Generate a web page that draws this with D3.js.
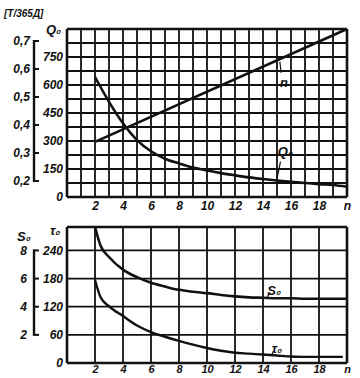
<!DOCTYPE html>
<html><head><meta charset="utf-8">
<script src="https://cdn.jsdelivr.net/npm/d3@7"></script>
<style>
html,body{margin:0;padding:0;background:#fff;}
svg text{font-family:"Liberation Sans",Arial,sans-serif;font-style:italic;font-weight:bold;fill:#111;}
</style></head>
<body><svg id="c" width="360" height="378"></svg>
<script>
// ---- data ----
const xTickValues = [2,4,6,8,10,12,14,16,18,20];
const xTickLabels = ["2","4","6","8","10","12","14","16","18","n"];
const q0Ticks = [0,150,300,450,600,750];
const tTicks = [0.2,0.3,0.4,0.5,0.6,0.7];
const tTickLabels = ["0,2","0,3","0,4","0,5","0,6","0,7"];
const nLineX = [2,20];
const nLineY = [295,900];
const q0X = [2,3,4,5,6,7,8,9,10,11,12,13,14,15,16,17,18,19,20];
const q0Y = [643,510,395,305,245,205,180,158,142,128,116,105,96,88,81,75,69,64,55];
const bTicks = [0,60,120,180,240];
const sTicks = [2,4,6,8];
const s0X = [2,2.4,3,4,5,6,7,8,9,10,11,12,13,14,15,16,17,18,19,20];
const s0Y = [290,250,226,199,183,171,163,156,152,149,145,142,140,139,138,138,137,137,137,137];
const t0X = [2,2.4,3,4,5,6,7,8,9,10,11,12,13,14,15,16,17,18,19,19.7];
const t0Y = [177,140,121,100,80,66,56,47,39,32,26,22,20,18,16,14,13,13,13,13];

// ---- layout ----
const svg = d3.select("#c");
const x = d3.scaleLinear().domain([0,20]).range([67,347]);
const yT = d3.scaleLinear().domain([0,900]).range([197,29]);
const yT2 = d3.scaleLinear().domain([0.2,0.7]).range([181,41]);
const yB = d3.scaleLinear().domain([0,290]).range([363,227]);
const yB2 = d3.scaleLinear().domain([2,8]).range([yB(60),yB(240)]);

const ink = "#111";
const g = svg.append("g");

// top grid
g.append("g").selectAll("line").data(d3.range(0,21,1)).join("line")
  .attr("x1",d=>x(d)).attr("x2",d=>x(d)).attr("y1",yT(0)).attr("y2",yT(900))
  .attr("stroke",ink).attr("stroke-width",d=>(d===0||d===20)?2.6:1.8);
g.append("g").selectAll("line").data(d3.range(0,901,75)).join("line")
  .attr("x1",x(0)).attr("x2",x(20)).attr("y1",d=>yT(d)).attr("y2",d=>yT(d))
  .attr("stroke",ink).attr("stroke-width",d=>(d===0||d===900)?2.6:1.8);

// bottom grid
g.append("g").selectAll("line").data(d3.range(0,21,2)).join("line")
  .attr("x1",d=>x(d)).attr("x2",d=>x(d)).attr("y1",yB(0)).attr("y2",yB(290))
  .attr("stroke",ink).attr("stroke-width",d=>(d===0||d===20)?2.6:1.8);
g.append("g").selectAll("line").data(bTicks.concat([290])).join("line")
  .attr("x1",x(0)).attr("x2",x(20)).attr("y1",d=>yB(d)).attr("y2",d=>yB(d))
  .attr("stroke",ink).attr("stroke-width",d=>(d===0||d===290)?2.6:1.8);

// curves
const lineT = d3.line().x(d=>x(d[0])).y(d=>yT(d[1])).curve(d3.curveMonotoneX);
const lineB = d3.line().x(d=>x(d[0])).y(d=>yB(d[1])).curve(d3.curveMonotoneX);
g.append("path").attr("d",d3.line().x(d=>x(d[0])).y(d=>yT(d[1]))(d3.zip(nLineX,nLineY)))
  .attr("fill","none").attr("stroke",ink).attr("stroke-width",2.6);
g.append("path").attr("d",lineT(d3.zip(q0X,q0Y)))
  .attr("fill","none").attr("stroke",ink).attr("stroke-width",2.6);
g.append("path").attr("d",lineB(d3.zip(s0X,s0Y)))
  .attr("fill","none").attr("stroke",ink).attr("stroke-width",2.6);
g.append("path").attr("d",lineB(d3.zip(t0X,t0Y)))
  .attr("fill","none").attr("stroke",ink).attr("stroke-width",2.4);

// axes labels (main)
function styleAxis(sel){
  sel.select(".domain").remove();
  sel.selectAll(".tick line").remove();
  sel.selectAll("text").style("font-size","12px").attr("fill",ink);
}
svg.append("g").attr("transform",`translate(${x(0)-1},0)`)
  .call(d3.axisLeft(yT).tickValues(q0Ticks).tickSize(0).tickPadding(3).tickFormat(d3.format("d")))
  .call(styleAxis);
svg.append("g").attr("transform",`translate(${x(0)-1},0)`)
  .call(d3.axisLeft(yB).tickValues(bTicks).tickSize(0).tickPadding(3).tickFormat(d3.format("d")))
  .call(styleAxis);
svg.append("g").attr("transform",`translate(0,${yT(0)+2})`)
  .call(d3.axisBottom(x).tickValues(xTickValues).tickSize(0).tickPadding(2).tickFormat((d,i)=>xTickLabels[i]))
  .call(styleAxis);
svg.append("g").attr("transform",`translate(0,${yB(0)+1})`)
  .call(d3.axisBottom(x).tickValues(xTickValues).tickSize(0).tickPadding(1).tickFormat((d,i)=>xTickLabels[i]))
  .call(styleAxis)
  .call(s=>s.selectAll("text").style("font-size","11px"));

// secondary top axis
const ax2 = svg.append("g").attr("transform","translate(34,0)");
ax2.append("line").attr("x1",0).attr("x2",0).attr("y1",yT2(0.7)-1).attr("y2",yT2(0.2)+1)
  .attr("stroke",ink).attr("stroke-width",2.4);
ax2.selectAll("line.t").data(tTicks).join("line").attr("class","t")
  .attr("x1",0).attr("x2",5).attr("y1",d=>yT2(d)).attr("y2",d=>yT2(d))
  .attr("stroke",ink).attr("stroke-width",2);
ax2.selectAll("text").data(tTicks).join("text")
  .attr("x",-4).attr("y",d=>yT2(d)).attr("dy","0.3em").attr("text-anchor","end")
  .style("font-size","12px").text((d,i)=>tTickLabels[i]);

// secondary bottom axis
const ax3 = svg.append("g").attr("transform","translate(34,0)");
ax3.append("line").attr("x1",0).attr("x2",0).attr("y1",yB2(8)-1).attr("y2",yB2(2)+1)
  .attr("stroke",ink).attr("stroke-width",2.4);
ax3.selectAll("line.t").data(sTicks).join("line").attr("class","t")
  .attr("x1",0).attr("x2",5).attr("y1",d=>yB2(d)).attr("y2",d=>yB2(d))
  .attr("stroke",ink).attr("stroke-width",2);
ax3.selectAll("text").data(sTicks).join("text")
  .attr("x",-7).attr("y",d=>yB2(d)).attr("dy","0.35em").attr("text-anchor","end")
  .style("font-size","12px").text(d=>d);

// axis titles
svg.append("text").attr("x",4).attr("y",17).style("font-size","10px").text("[T/365Д]");
svg.append("text").attr("x",46).attr("y",34).style("font-size","13px").text("Q₀");
svg.append("text").attr("x",50).attr("y",235).style("font-size","13px").text("τ₀");
svg.append("text").attr("x",17).attr("y",241).style("font-size","13px").text("S₀");

// curve annotations
function annot(sx,sy,p1,p2,lp,txt){
  svg.append("line").attr("x1",sx(p1[0])).attr("y1",sy(p1[1])).attr("x2",sx(p2[0])).attr("y2",sy(p2[1]))
    .attr("stroke",ink).attr("stroke-width",1.2);
  svg.append("text").attr("x",sx(lp[0])).attr("y",sy(lp[1])).attr("text-anchor","middle")
    .attr("dy","0.35em").style("font-size","13px").text(txt);
}
annot(x,yT,[15.2,725],[15.3,665],[15.5,612],"n");
annot(x,yT,[15.0,100],[15.25,190],[15.6,245],"Q₀");
annot(x,yB,[14.3,141],[14.5,150],[14.8,154],"S₀");
annot(x,yB,[14.6,16],[14.75,25],[15.0,30],"τ₀");
</script></body></html>
